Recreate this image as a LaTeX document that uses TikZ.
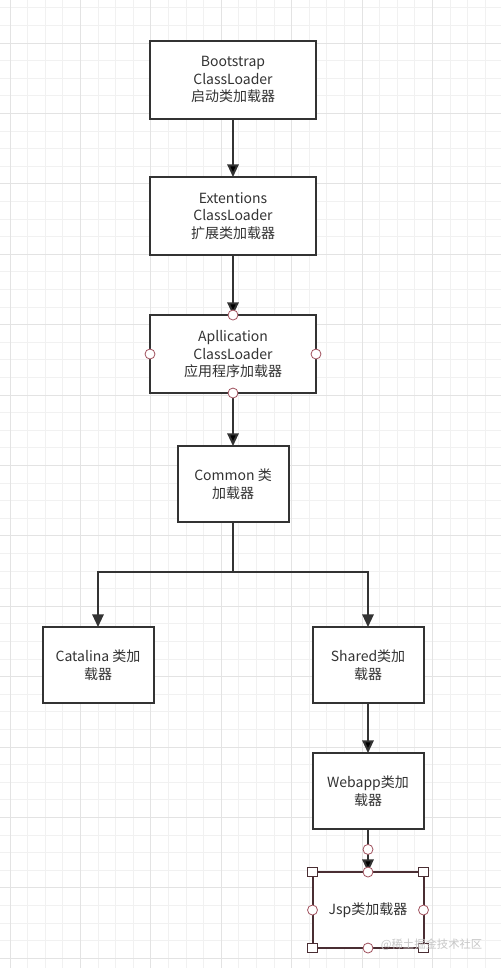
\documentclass[tikz,border=0pt]{standalone}
\usepackage{fontspec}
\setmainfont{Noto Sans CJK SC}
\usetikzlibrary{arrows.meta,positioning}
\definecolor{ink}{HTML}{333333}
\definecolor{handle}{HTML}{A0525E}
\definecolor{selbox}{HTML}{4A2E33}
\definecolor{gridminor}{HTML}{F1F1F1}
\definecolor{gridmajor}{HTML}{E3E3E3}

\begin{document}
\begin{tikzpicture}[x=0.75pt,y=-0.75pt,on grid,
  loader/.style={draw=ink,line width=1.5pt,fill=white,text=ink,align=center,outer sep=0pt,
    font=\fontsize{10.5}{13}\selectfont,minimum width=124.5pt,minimum height=58.5pt},
  small/.style={loader,minimum width=83.25pt,minimum height=57pt},
  flow/.style={draw=ink,line width=1.5pt,-{Triangle[length=9.5pt,width=8.5pt]}},
  dot/.style={circle,draw=handle,fill=white,line width=0.6pt,inner sep=0pt,minimum size=7.5pt},
  sq/.style={rectangle,draw=selbox,fill=white,line width=0.6pt,inner sep=0pt,minimum size=7pt}]
  \useasboundingbox (0,0) rectangle (501,968);
  % background grid
  \fill[white] (0,0) rectangle (501,968);
  \foreach \k in {0,...,27}
    \draw[gridminor,line width=0.75pt] (10+17.6*\k,0) -- (10+17.6*\k,968);
  \foreach \k in {0,...,54}
    \draw[gridminor,line width=0.75pt] (0,7.8+17.6*\k) -- (501,7.8+17.6*\k);
  \foreach \k in {0,4,...,24}
    \draw[gridmajor,line width=0.75pt] (10+17.6*\k,0) -- (10+17.6*\k,968);
  \foreach \k in {2,6,...,54}
    \draw[gridmajor,line width=0.75pt] (0,7.8+17.6*\k) -- (501,7.8+17.6*\k);

  % loaders
  \node[loader] (boot) at (233,79.5) {Bootstrap\\ClassLoader\\启动类加载器};
  \node[loader] (ext) [below=102.4pt of boot] {Extentions\\ClassLoader\\扩展类加载器};
  \node[loader] (app) [below=103.5pt of ext] {Apllication\\ClassLoader\\应用程序加载器};
  \node[small] (common) [below=97.5pt of app] {Common 类\\加载器};
  \node[small] (cat) [below left=135.75pt and 101.25pt of common] {Catalina 类加\\载器};
  \node[small] (shared) [below right=135.75pt and 101.25pt of common] {Shared类加\\载器};
  \node[small] (web) [below=94.5pt of shared] {Webapp类加\\载器};
  \node[small,draw=selbox] (jsp) [below=89.25pt of web] {Jsp类加载器};
  \coordinate[below=37.5pt of common.south] (fork);

  \path[flow]
    (boot) edge (ext)
    (ext) edge (app)
    (app) edge (common)
    (shared) edge (web)
    (web) edge (jsp);
  \draw[draw=ink,line width=1.5pt] (common) -- (fork);
  \draw[flow] (fork) -| (cat);
  \draw[flow] (fork) -| (shared);

  % selection handles
  \foreach \a in {north,south,east,west}
    \node[dot] (app-\a) at (app.\a) {};
  \node[dot] (webdot) [below=11.25pt of web.south] {};
  \foreach \a in {north east,north west,south east,south west}
    \node[sq] (jsp-\a) at (jsp.\a) {};
  \foreach \a in {north,south,east,west}
    \node[dot] (jsp-\a) at (jsp.\a) {};

  \node[text=black!22,font=\fontsize{8.5}{10}\selectfont,anchor=east] (mark) at (487,945) {@稀土掘金技术社区};
\end{tikzpicture}
\end{document}
